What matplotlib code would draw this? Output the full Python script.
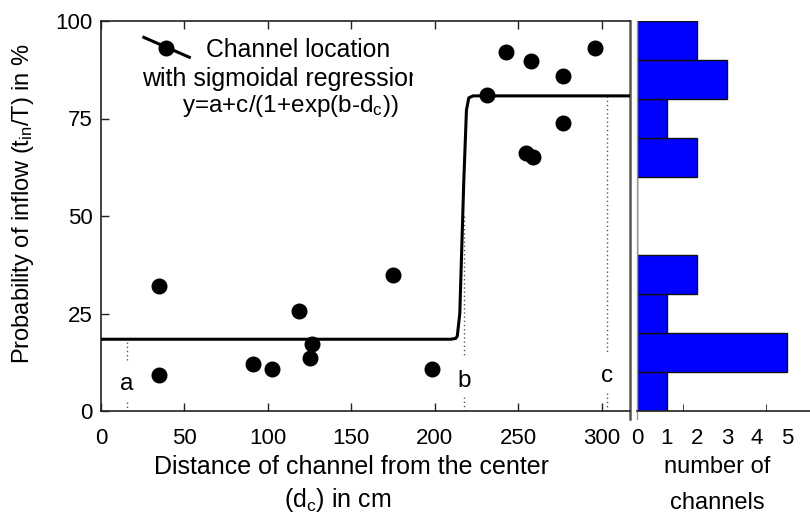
import numpy as np
import matplotlib
matplotlib.use('Agg')
import matplotlib.pyplot as plt
from matplotlib.patches import Rectangle

plt.rcParams['font.family'] = ['Liberation Sans', 'DejaVu Sans']
plt.rcParams['mathtext.fontset'] = 'custom'
plt.rcParams['mathtext.rm'] = 'Liberation Sans'
plt.rcParams['mathtext.it'] = 'Liberation Sans'

# channel positions (cm) and inflow probability (%)
dist = [34.8, 34.8, 91.0, 102.6, 118.4, 126.6, 125.4, 175.0, 198.6,
        231.4, 242.4, 254.4, 257.4, 258.7, 277.0, 277.0, 296.3]
prob = [32.1, 9.2, 12.0, 10.8, 25.6, 17.2, 13.6, 34.9, 10.8,
        81.0, 92.0, 66.1, 89.8, 65.2, 86.0, 73.9, 93.0]

# sigmoidal regression curve
curve_x = [0, 209.5, 212.5, 213.5, 215.0, 217.4, 219.0, 220.4, 223.0, 317]
curve_y = [18.4, 18.4, 18.6, 19.2, 25.0, 59.0, 77.2, 80.3, 80.8, 80.8]

# parameter markers a, b, c
param_names = ['a', 'b', 'c']
param_x = [15.4, 217.4, 303.4]
param_top = [17.8, 50.0, 80.8]
param_gap_hi = [13.1, 13.8, 14.9]
param_gap_lo = [2.4, 3.6, 4.6]
label_y = [5.4, 6.2, 7.5]

bins = np.arange(0, 101, 10)

fig = plt.figure(figsize=(8.1, 5.17), dpi=100)
ax = fig.add_axes([101/810, 106/517, 529/810, 390/517])
ax2 = fig.add_axes([637/810, 106/517, 173/810, 390/517])

# guide lines
for name, x, top, ghi, glo, ly in zip(param_names, param_x, param_top,
                                      param_gap_hi, param_gap_lo, label_y):
    ax.plot([x, x], [top, ghi], ls=(0, (1, 2)), color='#555555', lw=1)
    ax.plot([x, x], [glo, 0], ls=(0, (1, 2)), color='#555555', lw=1)
    ax.text(x, ly, name, ha='center', va='baseline', fontsize=17.5)

ax.plot(curve_x, curve_y, color='black', lw=2.2, zorder=3)
ax.plot(dist, prob, 'o', color='black', ms=10.5, zorder=4)

# legend-like annotation
ax.plot([0.081, 0.167], [0.958, 0.907], color='black', lw=2.2,
        transform=ax.transAxes)
ax.plot([0.123], [0.932], 'o', color='black', ms=10.5, transform=ax.transAxes)
ax.text(0.198, 0.908, 'Channel location', fontsize=17.8, transform=ax.transAxes)
t2 = ax.text(0.077, 0.833, 'with sigmoidal regression', fontsize=18,
             transform=ax.transAxes, clip_on=True)
clip = Rectangle((0, 0), 0.59, 1, transform=ax.transAxes)
t2.set_clip_path(clip)
ax.text(0.153, 0.767, 'y=a+c/(1+exp(b-d$_c$))', fontsize=17.5,
        transform=ax.transAxes)

ax.set_xlim(0, 317)
ax.set_ylim(0, 100)
ax.set_xticks([0, 50, 100, 150, 200, 250, 300])
ax.set_yticks([0, 25, 50, 75, 100])
ax.tick_params(direction='in', top=True, right=False, length=6, width=1,
               labelsize=16, color='#222222')
ax.tick_params(axis='x', pad=12)
ax.tick_params(axis='y', pad=6)
for s in ['left', 'bottom', 'top']:
    ax.spines[s].set_linewidth(1.2)
    ax.spines[s].set_color('#222222')
ax.spines['right'].set_linewidth(1.8)
ax.spines['right'].set_color('#555555')
ax.spines['right'].set_bounds(-2, 100)

# histogram of probabilities
ax2.hist(prob, bins=bins, orientation='horizontal', color='#0000FF',
         edgecolor='#111111', linewidth=1)
ax2.set_ylim(0, 100)
ax2.set_xlim(0, 5.77)
ax2.set_yticks([])
ax2.set_xticks([0, 1, 2, 3, 4, 5])
ax2.set_xticks([1.53, 4.3], minor=True)
ax2.tick_params(axis='x', which='major', length=0, labelsize=16, pad=12)
ax2.tick_params(axis='x', which='minor', direction='in', length=5,
                color='#222222')
ax2.spines['top'].set_visible(False)
ax2.spines['right'].set_visible(False)
ax2.spines['left'].set_color('#999999')
ax2.spines['left'].set_linewidth(1)
ax2.spines['left'].set_bounds(-2, 100)
ax2.spines['bottom'].set_linewidth(1.2)
ax2.spines['bottom'].set_color('#222222')

# axis labels
fig.text(23/810, 1 - 204/517, 'Probability of inflow (t$_{in}$/T) in %',
         rotation=90, ha='center', va='center', fontsize=17)
fig.text(352/810, 1 - 467/517, 'Distance of channel from the center',
         ha='center', va='center', fontsize=18)
fig.text(338/810, 1 - 500/517, '(d$_c$) in cm',
         ha='center', va='center', fontsize=18)
fig.text(717/810, 1 - 467/517, 'number of', ha='center', va='center',
         fontsize=17)
fig.text(717/810, 1 - 503/517, 'channels', ha='center', va='center',
         fontsize=17)

fig.savefig('out.png', dpi=100)
